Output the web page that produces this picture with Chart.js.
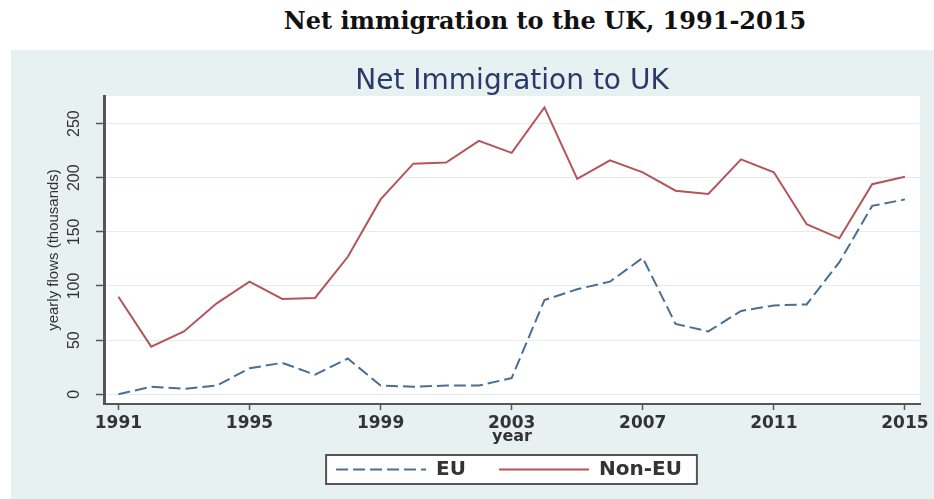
<!DOCTYPE html>
<html>
<head>
<meta charset="utf-8">
<title>Net immigration to the UK, 1991-2015</title>
<script src="https://cdn.jsdelivr.net/npm/chart.js@4.4.0/dist/chart.umd.min.js"></script>
<style>
    html, body { margin: 0; padding: 0; background: #fff; }
    body { width: 934px; height: 499px; position: relative; overflow: hidden; }
    #titulo {
        position: absolute; left: 0; top: 6px; width: 1090px;
        text-align: center; line-height: 28px;
        font: bold 24px "DejaVu Serif", "Liberation Serif", serif; color: #111;
    }
    #painel { position: absolute; left: 11px; top: 50px; width: 923px; height: 449px; background: #e8f1f1; }
    #painel canvas { display: block; }
</style>
</head>
<body>
<div id="titulo">Net immigration to the UK, 1991-2015</div>
<div id="painel"><canvas id="imigracaoChart" width="923" height="449"></canvas></div>
<script>
// ── Dados (milhares por ano) ───────────────────────────────────────────
const anos = [1991, 1992, 1993, 1994, 1995, 1996, 1997, 1998, 1999, 2000, 2001, 2002, 2003,
              2004, 2005, 2006, 2007, 2008, 2009, 2010, 2011, 2012, 2013, 2014, 2015];
const fluxoUE = [0, 7, 5, 8, 24, 29, 18, 33, 8, 7, 8, 8, 15,
                 87, 97, 104, 126, 65, 58, 77, 82, 83, 122, 174, 180];
const fluxoNaoUE = [90, 44, 58, 84, 104, 88, 89, 127, 180, 213, 214, 234, 223,
                    265, 199, 216, 205, 188, 185, 217, 205, 157, 144, 194, 201];
const ticksAnos = [1991, 1995, 1999, 2003, 2007, 2011, 2015];
const ticksFluxo = [0, 50, 100, 150, 200, 250];

const corUE = '#4b6f93';
const corNaoUE = '#b5545b';

// ── Plugin: fundo branco, título e legenda alinhados ao gráfico ────────
let caixaLegenda = null;
const molduraPlugin = {
    id: 'moldura',
    afterLayout(chart) {
        const area = chart.chartArea;
        const meio = (area.left + area.right) / 2;

        const tb = chart.titleBlock;
        if (tb) {
            const d = meio - (tb.left + tb.right) / 2;
            tb.left += d; tb.right += d;
        }

        const lg = chart.legend;
        if (lg) {
            const pad = lg.options.labels.padding;
            const fonte = lg.options.labels.font.size;
            const larguraLinha = lg.lineWidths[0];
            const topoCaixa = lg.top;
            const alturaCaixa = lg.height;

            const d = meio - 3 - (lg.left + lg.right) / 2;
            lg.left += d; lg.right += d;
            lg.top = topoCaixa + alturaCaixa / 2 - pad - fonte / 2;

            const inicio = (lg.left + pad + lg.right - larguraLinha) / 2;
            caixaLegenda = {
                x: inicio - 10,
                y: topoCaixa,
                w: larguraLinha - pad + 25,
                h: alturaCaixa
            };
        }
    },
    beforeDraw(chart) {
        const { ctx, chartArea: a } = chart;
        ctx.save();
        ctx.fillStyle = '#fff';
        ctx.fillRect(a.left, a.top, a.right - a.left, a.bottom - a.top);
        if (caixaLegenda) {
            const c = caixaLegenda;
            ctx.fillRect(c.x, c.y, c.w, c.h);
            ctx.strokeStyle = '#555';
            ctx.lineWidth = 2;
            ctx.strokeRect(c.x, c.y, c.w, c.h);
        }
        ctx.restore();
    }
};

// legenda com o mesmo traço (tracejado) das linhas
function gerarLegenda(chart) {
    const itens = Chart.defaults.plugins.legend.labels.generateLabels(chart);
    itens.forEach(item => {
        const ds = chart.data.datasets[item.datasetIndex];
        item.lineDash = ds.borderDash || [];
        item.lineWidth = ds.borderWidth;
        item.strokeStyle = ds.borderColor;
    });
    return itens;
}

// ── Gráfico ────────────────────────────────────────────────────────────
const ctx = document.getElementById('imigracaoChart').getContext('2d');
const imigracaoChart = new Chart(ctx, {
    type: 'line',
    data: {
        datasets: [
            {
                label: 'EU',
                data: anos.map((a, i) => ({ x: a, y: fluxoUE[i] })),
                borderColor: corUE,
                backgroundColor: corUE,
                borderWidth: 2,
                borderDash: [12, 5],
                pointRadius: 0,
                pointStyle: 'line',
                tension: 0
            },
            {
                label: 'Non-EU',
                data: anos.map((a, i) => ({ x: a, y: fluxoNaoUE[i] })),
                borderColor: corNaoUE,
                backgroundColor: corNaoUE,
                borderWidth: 2,
                pointRadius: 0,
                pointStyle: 'line',
                tension: 0
            }
        ]
    },
    options: {
        responsive: false,
        animation: false,
        devicePixelRatio: 1,
        layout: { padding: { left: 10, right: 14, top: 0, bottom: 15 } },
        plugins: {
            title: {
                display: true,
                text: 'Net Immigration to UK',
                color: '#2b3a6b',
                font: { family: 'DejaVu Sans', size: 28, weight: 'normal', lineHeight: 1 },
                padding: { top: 18, bottom: 0 }
            },
            legend: {
                position: 'bottom',
                maxHeight: 29,
                labels: {
                    usePointStyle: true,
                    pointStyleWidth: 90,
                    padding: 33,
                    color: '#333',
                    font: { family: 'DejaVu Sans', size: 20, weight: 'bold' },
                    generateLabels: gerarLegenda
                }
            },
            tooltip: { enabled: false }
        },
        scales: {
            x: {
                type: 'linear',
                min: 1990.56,
                max: 2015.46,
                afterBuildTicks: escala => { escala.ticks = ticksAnos.map(v => ({ value: v })); },
                afterFit: escala => { escala.height = 51; },
                grid: { drawOnChartArea: false, tickLength: 6, tickColor: '#555', tickWidth: 1.5 },
                border: { color: '#555', width: 2 },
                ticks: {
                    padding: 3,
                    color: '#333',
                    maxRotation: 0,
                    font: { family: 'DejaVu Sans', size: 17, weight: 'bold' },
                    callback: v => String(v)
                },
                title: {
                    display: true,
                    text: 'year',
                    color: '#333',
                    font: { family: 'DejaVu Sans', size: 16, weight: 'bold', lineHeight: 1.2 },
                    padding: { top: 0, bottom: 9 }
                }
            },
            y: {
                min: -9,
                max: 275.5,
                afterBuildTicks: escala => { escala.ticks = ticksFluxo.map(v => ({ value: v })); },
                afterFit: escala => { escala.width = 83; },
                grid: { color: '#e3eded', tickLength: 8, tickColor: '#555', tickWidth: 1.5 },
                border: { color: '#555', width: 3 },
                ticks: {
                    padding: 8,
                    color: '#333',
                    minRotation: 90,
                    maxRotation: 90,
                    crossAlign: 'center',
                    font: { family: 'Liberation Sans', size: 16 }
                },
                title: {
                    display: true,
                    text: 'yearly flows (thousands)',
                    color: '#333',
                    font: { family: 'Liberation Sans', size: 15, lineHeight: 1.2 },
                    padding: { top: 24, bottom: 0 }
                }
            }
        }
    },
    plugins: [molduraPlugin]
});
</script>
</body>
</html>
